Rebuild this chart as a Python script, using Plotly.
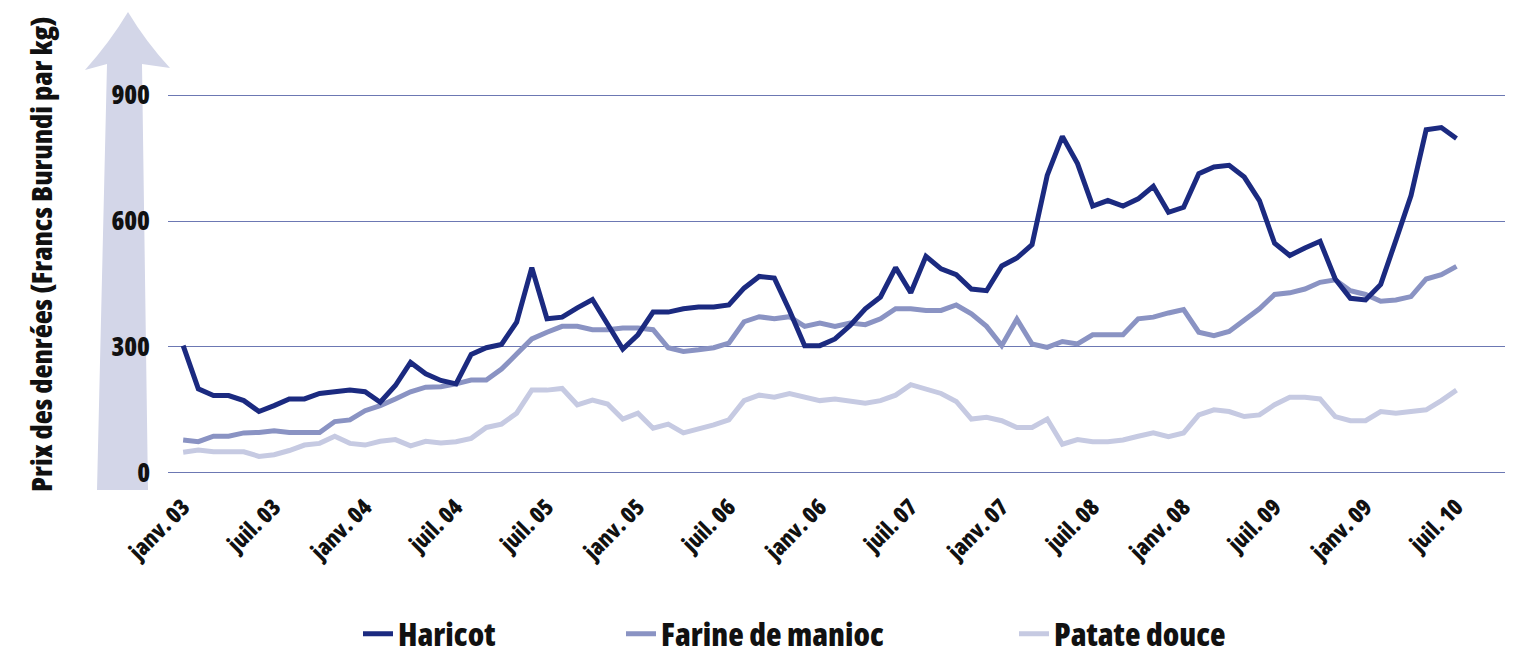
import plotly.graph_objects as go

# ---- data ----
tick_labels = ["janv. 03", "juil. 03", "janv. 04", "juil. 04", "juil. 05", "janv. 05",
               "juil. 06", "janv. 06", "juil. 07", "janv. 07", "juil. 08", "janv. 08",
               "juil. 09", "janv. 09", "juil. 10"]
months = list(range(85))

haricot = [303, 200, 184, 184, 172, 146, 160, 176, 176, 189, 193, 197, 193, 168, 208,
           263, 236, 220, 212, 282, 298, 306, 359, 489, 367, 371, 393, 413, 354, 295,
           329, 383, 383, 391, 395, 395, 400, 440, 468, 464, 387, 303, 303, 319, 351,
           391, 419, 489, 429, 516, 486, 472, 438, 434, 493, 512, 544, 709, 802, 737,
           636, 649, 636, 653, 683, 621, 633, 713, 729, 733, 705, 649, 547, 518, 536,
           552, 462, 416, 412, 449, 554, 661, 818, 823, 797]

farine = [78, 74, 87, 87, 95, 96, 100, 96, 96, 96, 122, 126, 148, 160, 176,
          193, 204, 205, 212, 221, 221, 247, 283, 319, 335, 349, 349, 341, 341, 345,
          345, 341, 298, 289, 293, 298, 309, 360, 372, 367, 372, 349, 357, 349, 357,
          353, 367, 391, 391, 387, 387, 400, 379, 349, 303, 366, 307, 299, 313, 307,
          329, 329, 329, 367, 371, 381, 389, 335, 327, 337, 363, 391, 425, 429, 438,
          454, 460, 434, 425, 409, 412, 420, 462, 472, 492]

patate = [49, 54, 50, 50, 50, 39, 43, 53, 66, 70, 87, 70, 66, 75, 79,
          64, 75, 71, 74, 82, 108, 116, 142, 197, 197, 201, 162, 173, 164, 128,
          142, 106, 116, 95, 104, 114, 126, 172, 185, 180, 189, 180, 172, 176, 172,
          166, 172, 185, 210, 198, 189, 170, 128, 132, 124, 108, 108, 128, 68, 79,
          74, 74, 78, 87, 95, 86, 95, 138, 150, 146, 134, 138, 162, 180, 180,
          176, 134, 124, 124, 146, 142, 146, 150, 172, 197]

y_ticks = [0, 300, 600, 900]

# ---- style ----
FONT = "Open Sans"
C_HAR = "#1b2a80"
C_FAR = "#8a93c3"
C_PAT = "#c6cae2"

OFF = 8                      # default body margin of the html page
W, H = 1523 - OFF, 656 - OFF
L, T = 168 - OFF, 94 - OFF   # plot area (figure coords)
PW, PH = 1337, 380


def px(xw):
    """window x -> paper x"""
    return (xw - OFF - L) / PW


def py(yw):
    """window y -> paper y"""
    return (T + PH - (yw - OFF)) / PH


def fnt(size):
    return dict(family=FONT, size=size, color="#111111", weight=800)


def cond(s):
    return '<span style="font-stretch:condensed">' + s + '</span>'


fig = go.Figure()
fig.add_trace(go.Scatter(x=months, y=patate, mode="lines", name=cond("Patate douce"),
                         line=dict(color=C_PAT, width=5), legend="legend3"))
fig.add_trace(go.Scatter(x=months, y=farine, mode="lines", name=cond("Farine de manioc"),
                         line=dict(color=C_FAR, width=5), legend="legend2"))
fig.add_trace(go.Scatter(x=months, y=haricot, mode="lines", name=cond("Haricot"),
                         line=dict(color=C_HAR, width=5), legend="legend"))

# decorative arrow behind the y axis labels
path = "M {:.5f},{:.5f} L {:.5f},{:.5f} L {:.5f},{:.5f} Q {:.5f},{:.5f} {:.5f},{:.5f} Q {:.5f},{:.5f} {:.5f},{:.5f} L {:.5f},{:.5f} L {:.5f},{:.5f} Z".format(
    px(97), py(490), px(107), py(64), px(85), py(70),
    px(110), py(42), px(128), py(12),
    px(146), py(42), px(170), py(68),
    px(142), py(64), px(148), py(490))
fig.add_shape(type="path", path=path, xref="paper", yref="paper",
              fillcolor="#d3d6e8", line=dict(width=0), layer="below")

fig.add_annotation(text=cond("Prix des denrées (Francs Burundi par kg)"), textangle=-90,
                   x=px(40), y=py(254), xref="paper", yref="paper", showarrow=False,
                   xanchor="center", yanchor="middle", font=fnt(29))

legend_common = dict(orientation="h", yanchor="middle", xanchor="left",
                     yref="container", y=1 - (634 - OFF) / H,
                     bgcolor="rgba(0,0,0,0)", font=fnt(32))

fig.update_layout(
    width=W, height=H,
    margin=dict(l=L, r=W - L - PW, t=T, b=H - T - PH, autoexpand=False),
    plot_bgcolor="white", paper_bgcolor="white",
    showlegend=True,
    legend=dict(xref="container", x=(358 - OFF) / W, **legend_common),
    legend2=dict(xref="container", x=(621 - OFF) / W, **legend_common),
    legend3=dict(xref="container", x=(1014 - OFF) / W, **legend_common),
    xaxis=dict(range=[-1, 87.2], tickmode="array", tickvals=[6 * i for i in range(len(tick_labels))],
               ticktext=[cond(t) for t in tick_labels], tickangle=-45, showgrid=False, zeroline=False,
               showline=False, ticks="", ticklabelstandoff=14, automargin=False,
               tickfont=fnt(23)),
    yaxis=dict(range=[-3, 903], tickmode="array", tickvals=y_ticks,
               ticktext=[cond(str(v)) for v in y_ticks],
               showgrid=True, gridcolor="#6c78b3", gridwidth=1, zeroline=False,
               showline=False, ticks="", ticklabelstandoff=17, automargin=False,
               tickfont=fnt(26)),
)

fig.write_html("out.html")
